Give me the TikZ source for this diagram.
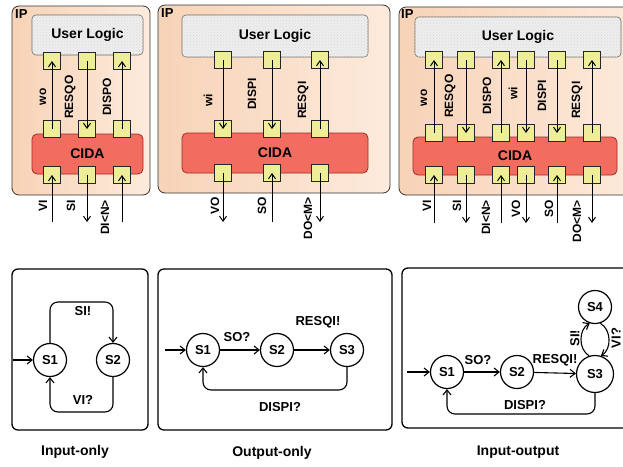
\documentclass[tikz,border=0pt]{standalone}
\usepackage{fontspec}
\setmainfont{Liberation Sans}
\usetikzlibrary{arrows.meta,patterns,positioning}
\definecolor{ipA}{RGB}{247,211,183}
\definecolor{ipB}{RGB}{253,235,220}
\definecolor{ulgray}{RGB}{238,238,238}
\definecolor{cidared}{RGB}{242,108,96}
\definecolor{cidaline}{RGB}{160,45,35}
\definecolor{portyellow}{RGB}{238,238,152}

\begin{document}
\begin{tikzpicture}[x=1pt, y=-1pt,
        every node/.style={font=\fontsize{12}{14}\selectfont\bfseries},
        ipbox/.style={draw=black!80, line width=0.8pt, rounded corners=7, left color=ipA, right color=ipB, inner sep=0},
        ulbox/.style={draw=gray!80!black, line width=0.6pt, rounded corners=4, fill=ulgray,
                postaction={pattern=crosshatch dots, pattern color=gray!30}, font=\fontsize{14}{16}\selectfont\bfseries},
        cidabox/.style={draw=cidaline, line width=0.8pt, rounded corners=5, fill=cidared, font=\fontsize{14}{16}\selectfont\bfseries},
        port/.style={draw=black!85, line width=0.8pt, fill=portyellow, minimum size=17, inner sep=0},
        sig/.style={-{Straight Barb[length=5pt,width=7pt]}, line width=1pt},
        vlab/.style={rotate=90, inner sep=0},
        blab/.style={rotate=90, anchor=east, inner sep=0},
        iplab/.style={anchor=north west, inner sep=0, font=\fontsize{13}{15}\selectfont\bfseries},
        fsm/.style={draw, line width=1.3pt, rounded corners=6, inner sep=0},
        state/.style={circle, draw, line width=1.2pt, minimum size=33, inner sep=0, font=\fontsize{13}{15}\selectfont\bfseries},
        trans/.style={-{Straight Barb[length=5pt,width=8pt]}, line width=1.1pt, rounded corners=8},
        tlab/.style={inner sep=1, font=\fontsize{13}{15}\selectfont\bfseries},
        capt/.style={font=\fontsize{14}{16}\selectfont\bfseries}]
        \useasboundingbox (0,0) rectangle (623,466);
        \clip (0,0) rectangle (623,466);

        \node[ipbox, minimum width=138, minimum height=189] (Aip) at (81,100.5) {};
        \node[iplab] (Aiplab) at (15,9) {IP};
        \node[ulbox, minimum width=111, minimum height=40] (Aul) at (87.5,35) {User Logic};
        \node[cidabox, minimum width=111, minimum height=40] (Acida) at (87.5,154) {CIDA};
        \foreach \n/\x in {1/52,2/87,3/122} {
                \node[port] (Au\n) at (\x,61) {};
                \node[port] (Am\n) at (\x,129) {};
                \node[port] (Ab\n) at (\x,175) {};
                \coordinate (Ae\n) at (\x,222);
        }
        \foreach \f/\t in {Am1/Au1,Au2/Am2,Am3/Au3,Ae1/Ab1,Ab2/Ae2,Ae3/Ab3} \draw[sig] (\f.center) -- (\t.center);
        \foreach \t/\x [count=\i] in {wo/43,RESQO/70,DISPO/107} \node[vlab] (Al\i) at (\x,97) {\t};
        \foreach \t/\x [count=\i] in {VI/43,SI/71,DI<N>/105} \node[blab] (Ao\i) at (\x,200) {\t};

        \node[ipbox, minimum width=232, minimum height=188] (Bip) at (274,99) {};
        \node[iplab] (Biplab) at (161,8) {IP};
        \node[ulbox, minimum width=186, minimum height=42] (Bul) at (275,36) {User Logic};
        \node[cidabox, minimum width=186, minimum height=40] (Bcida) at (275,153) {CIDA};
        \foreach \n/\x in {1/223,2/272,3/320} {
                \node[port] (Bu\n) at (\x,60) {};
                \node[port] (Bm\n) at (\x,129) {};
                \node[port] (Bb\n) at (\x,173) {};
                \coordinate (Be\n) at (\x,222);
        }
        \foreach \f/\t in {Bu1/Bm1,Bu2/Bm2,Bm3/Bu3,Bb1/Be1,Be2/Bb2,Bb3/Be3} \draw[sig] (\f.center) -- (\t.center);
        \foreach \t/\x/\y [count=\i] in {wi/208/100,DISPI/252/94,RESQI/303/100} \node[vlab] (Bl\i) at (\x,\y) {\t};
        \foreach \t/\x [count=\i] in {VO/215,SO/262,DO<M>/308} \node[blab] (Bo\i) at (\x,197) {\t};

        \node[ipbox, minimum width=246, minimum height=188] (Cip) at (522,101) {};
        \node[iplab] (Ciplab) at (401,9) {IP};
        \node[ulbox, minimum width=206, minimum height=40] (Cul) at (518,37) {User Logic};
        \node[cidabox, minimum width=204, minimum height=38] (Ccida) at (515,156) {CIDA};
        \foreach \n/\x in {1/434,2/466,3/501,4/526,5/557,6/592} {
                \node[port] (Cu\n) at (\x,60) {};
                \node[port] (Cm\n) at (\x,133) {};
                \node[port] (Cb\n) at (\x,175) {};
                \coordinate (Ce\n) at (\x,223);
        }
        \foreach \f/\t in {Cm1/Cu1,Cu2/Cm2,Cm3/Cu3,Cu4/Cm4,Cu5/Cm5,Cm6/Cu6,
                Ce1/Cb1,Cb2/Ce2,Ce3/Cb3,Cb4/Ce4,Ce5/Cb5,Cb6/Ce6} \draw[sig] (\f.center) -- (\t.center);
        \foreach \t/\x/\y [count=\i] in {wo/424/98,RESQO/450/96,DISPO/487/96,wi/513/93,DISPI/542/96,RESQI/577/100}
                \node[vlab] (Cl\i) at (\x,\y) {\t};
        \foreach \t/\x [count=\i] in {VI/427,SI/457,DI<N>/486,VO/516,SO/549,DO<M>/577} \node[blab] (Co\i) at (\x,200) {\t};

        \node[fsm, minimum width=136, minimum height=161] (Afsm) at (80,349.5) {};
        \node[state] (As1) at (50,360) {S1};
        \node[state] (As2) at (113,360) {S2};
        \coordinate (Ain) at (13,360);
        \coordinate (Ahi) at (83,302);
        \coordinate (Alo) at (83,412);
        \draw[trans] (Ain) -- (As1);
        \draw[trans] (As1.north) |- (Ahi) -| (As2.north);
        \draw[trans] (As2.south) |- (Alo) -| (As1.south);
        \node[tlab] (Asi) at (83,311) {SI!};
        \node[tlab] (Avi) at (83,400) {VI?};
        \node[capt] (Acap) at (75,452) {Input-only};

        \node[fsm, minimum width=234, minimum height=161] (Bfsm) at (275,349.5) {};
        \node[state] (Bs1) at (203,350) {S1};
        \node[state] (Bs2) at (277,350) {S2};
        \node[state] (Bs3) at (347,350) {S3};
        \coordinate (Bin) at (165,350);
        \coordinate (Blo) at (280,390);
        \draw[trans] (Bin) -- (Bs1);
        \draw[trans] (Bs1) -- (Bs2);
        \draw[trans] (Bs2) -- (Bs3);
        \draw[trans] (Bs3.south) |- (Blo) -| (Bs1.south);
        \node[tlab] (Bso) at (237,337) {SO?};
        \node[tlab] (Bres) at (318,322) {RESQI!};
        \node[tlab] (Bdis) at (280,407) {DISPI?};
        \node[capt] (Bcap) at (272,453) {Output-only};

        \node[fsm, minimum width=248, minimum height=160] (Cfsm) at (526,348) {};
        \node[state] (Cs1) at (447,372) {S1};
        \node[state] (Cs2) at (517,372) {S2};
        \node[state, minimum size=37] (Cs3) at (595,374) {S3};
        \node[state] (Cs4) at (595,307) {S4};
        \coordinate (Cin) at (407,372);
        \coordinate (Clo) at (525,414);
        \draw[trans] (Cin) -- (Cs1);
        \draw[trans] (Cs1) -- (Cs2);
        \draw[trans] (Cs2) -- (Cs3);
        \draw[trans] (Cs3.south) |- (Clo) -| (Cs1.south);
        \draw[trans] (Cs3.108) to[bend left=60] (Cs4.252);
        \draw[trans] (Cs4.288) to[bend left=60] (Cs3.72);
        \node[tlab] (Cso) at (478,360) {SO?};
        \node[tlab] (Cres) at (555,360) {RESQI!};
        \node[tlab] (Cdis) at (525,405) {DISPI?};
        \node[tlab, rotate=90] (Csi) at (575,338) {SI!};
        \node[tlab, rotate=90] (Cvi) at (616,338) {VI?};
        \node[capt] (Ccap) at (518,452) {Input-output};
\end{tikzpicture}
\end{document}
